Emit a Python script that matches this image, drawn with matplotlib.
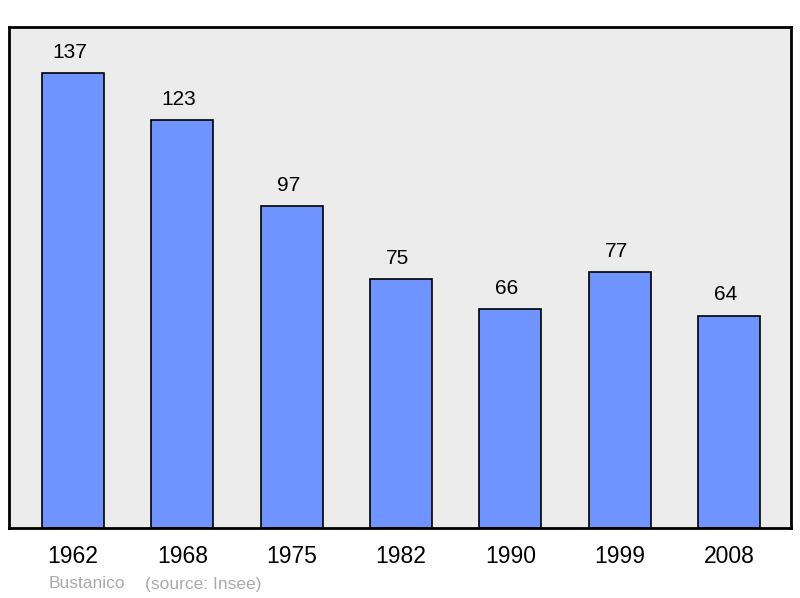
import matplotlib.pyplot as plt

plt.rcParams['font.family'] = ['Liberation Sans', 'DejaVu Sans']

years = ["1962", "1968", "1975", "1982", "1990", "1999", "2008"]
population = [137, 123, 97, 75, 66, 77, 64]

fig = plt.figure(figsize=(8, 5.98), dpi=100)
ax = fig.add_axes([9 / 800, 70 / 598, 782 / 800, 501 / 598])
ax.set_facecolor("#ececec")

x = range(len(years))
ax.bar(x, population, width=0.567, color="#7094ff", edgecolor="black", linewidth=1.2, zorder=2)

# value labels sit a bit left of the bar centre in the original
for i, v in enumerate(population):
    ax.annotate(str(v), (i, v), xytext=(-2.5, 8), textcoords="offset points",
                ha="center", va="bottom", fontsize=15)

ax.set_xlim(-0.585, 6.567)
ax.set_ylim(0, 150.9)
ax.set_xticks(list(x))
ax.set_xticklabels(years, fontsize=16.5)
ax.tick_params(axis="x", length=0, pad=12)
ax.set_yticks([])
for s in ax.spines.values():
    s.set_linewidth(2)
    s.set_color("black")

fig.text(49 / 800, 1 - 584 / 598, "Bustanico", color="#aaaaaa", fontsize=12.5, va="center")
fig.text(145 / 800, 1 - 584 / 598, "(source: Insee)", color="#aaaaaa", fontsize=12.5, va="center")

fig.savefig("out.png", dpi=100)
